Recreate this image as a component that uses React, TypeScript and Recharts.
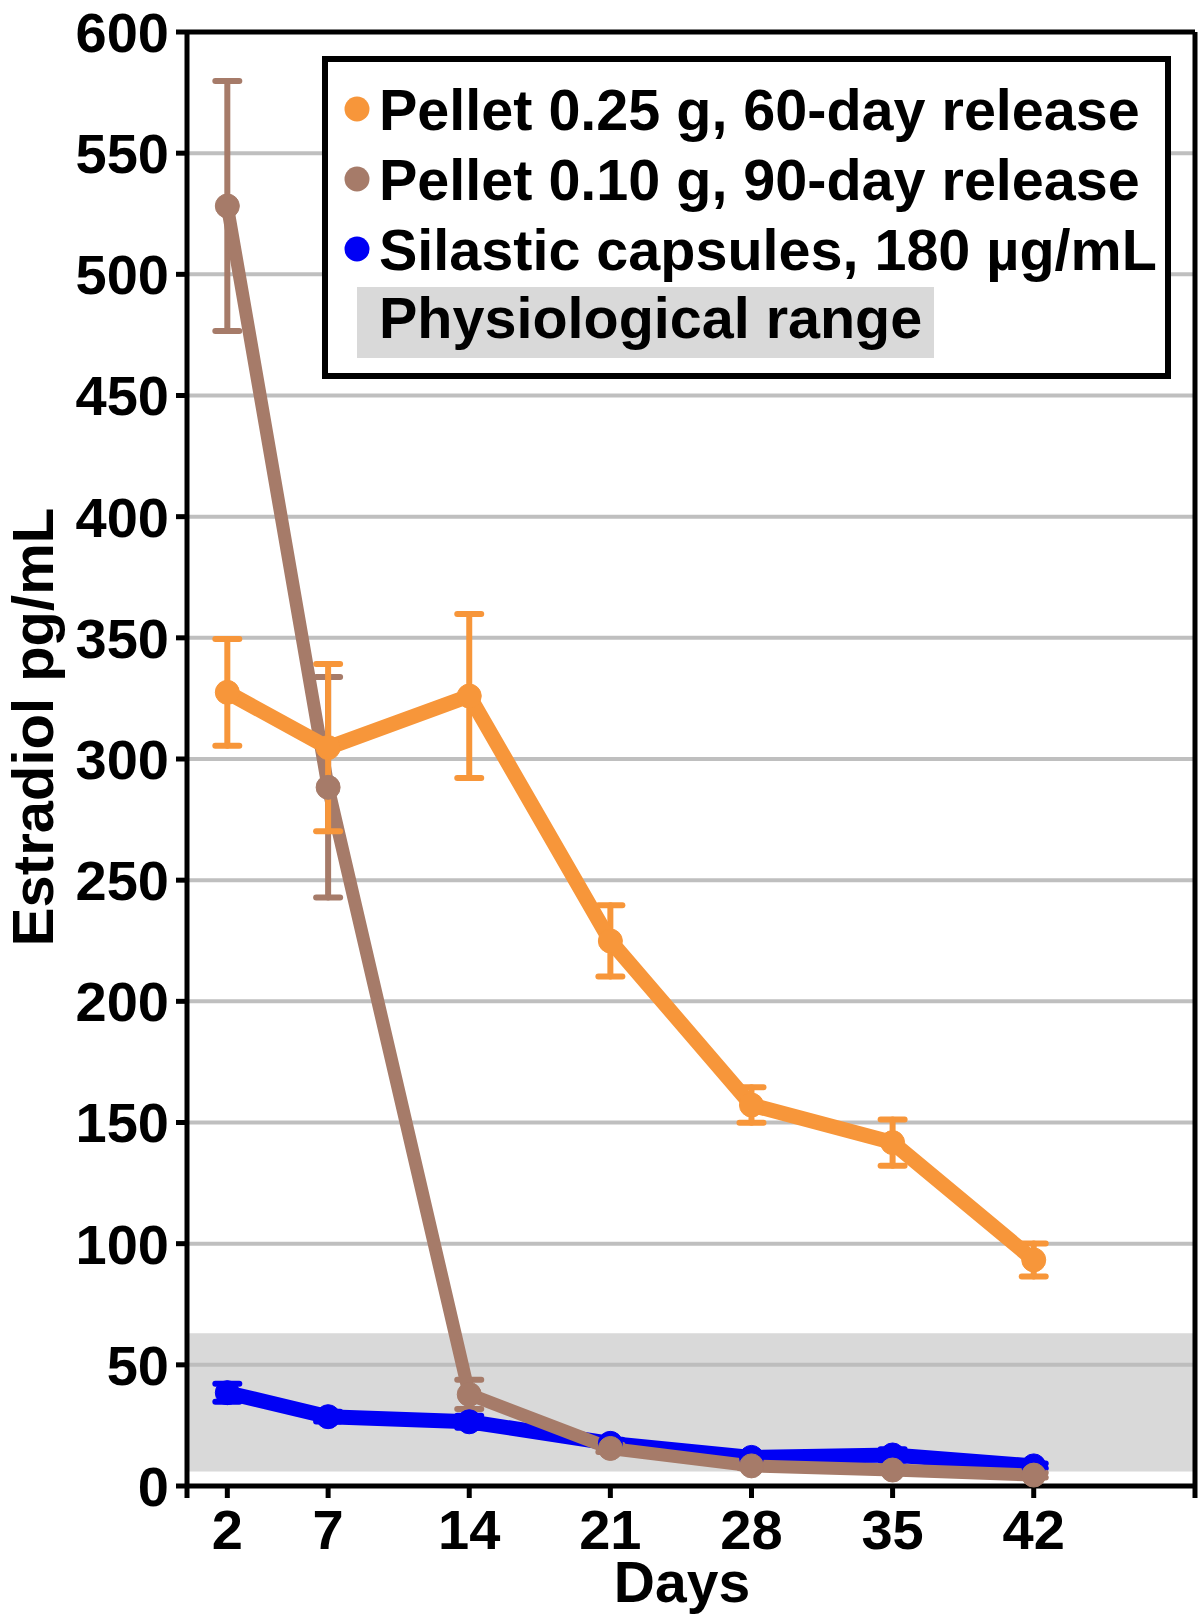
import React from "react"
import {
  LineChart,
  Line,
  XAxis,
  YAxis,
  CartesianGrid,
  ErrorBar,
  ReferenceArea,
  ReferenceLine,
  Legend,
} from "recharts"

// days after implant
const days = [2, 7, 14, 21, 28, 35, 42]

// Pellet 0.25 g, 60-day release
const pellet25 = [327.5, 304.7, 326, 224.9, 157.2, 141.7, 93.3]
const pellet25Err = [22, 34.5, 33.8, 14.7, 7.3, 9.5, 6.8]

// Pellet 0.10 g, 90-day release
const pellet10 = [528.2, 288.3, 37.8, 15.5, 8.3, 6.6, 4.5]
const pellet10Err = [51.6, 45.5, 6, 1.5, 1, 1, 1]

// Silastic capsules, 180 µg/mL
const silastic = [38.5, 28.6, 26.5, 17.6, 11.8, 12.8, 8.3]
const silasticErr = [3.7, 2, 2.5, 1.5, 1, 2.4, 1]

// physiological range band
const physioLow = 6
const physioHigh = 63

const yTicks = [0, 50, 100, 150, 200, 250, 300, 350, 400, 450, 500, 550, 600]
const xTicks = [0, 2, 7, 14, 21, 28, 35, 42, 50]

const series = [
  { key: "p25", name: "Pellet 0.25 g, 60-day release", color: "#f7963a", width: 15 },
  { key: "p10", name: "Pellet 0.10 g, 90-day release", color: "#a67b69", width: 13 },
  { key: "sil", name: "Silastic capsules, 180 µg/mL", color: "#0000f5", width: 15 },
]

const data = days.map((d, i) => ({
  day: d,
  p25: pellet25[i],
  p25Err: pellet25Err[i],
  p10: pellet10[i],
  p10Err: pellet10Err[i],
  sil: silastic[i],
  silErr: silasticErr[i],
}))

const FONT = "'Liberation Sans', Arial, Helvetica, sans-serif"

function LegendBox() {
  return (
    <svg width={849} height={323} style={{ display: "block" }}>
      <rect x={3} y={3} width={843} height={317} fill="#fff" stroke="#000" strokeWidth={6} />
      <rect x={35} y={231} width={577} height={71} fill="#d9d9d9" />
      {series.map((s, i) => (
        <g key={s.key}>
          <circle cx={35} cy={53 + i * 70} r={12.5} fill={s.color} />
          <text x={57} y={74 + i * 70} fontFamily={FONT} fontWeight={700} fontSize={57.5} fill="#000">
            {s.name}
          </text>
        </g>
      ))}
      <text x={57} y={282} fontFamily={FONT} fontWeight={700} fontSize={57.5} fill="#000">
        Physiological range
      </text>
    </svg>
  )
}

function YLabel(props: any) {
  const vb = props.viewBox
  const cy = vb.y + vb.height / 2 - 32
  return (
    <text
      x={53}
      y={cy}
      transform={`rotate(-90 53 ${cy})`}
      textAnchor="middle"
      fontFamily={FONT}
      fontWeight={700}
      fontSize={58}
      fill="#000"
    >
      Estradiol pg/mL
    </text>
  )
}

function XLabel(props: any) {
  const vb = props.viewBox
  return (
    <text
      x={vb.x + vb.width / 2 - 9}
      y={vb.y + 116}
      textAnchor="middle"
      fontFamily={FONT}
      fontWeight={700}
      fontSize={57}
      fill="#000"
    >
      Days
    </text>
  )
}

export default function App() {
  const tickStyle = { fontSize: 56, fontWeight: 700, fill: "#000", fontFamily: FONT }
  return (
    <div style={{ position: "absolute", left: 0, top: 0, width: 1200, height: 1624, background: "#fff" }}>
      <LineChart width={1200} height={1624} data={data} margin={{ top: 32, right: 5, left: 0, bottom: 0 }}>
        <ReferenceArea y1={physioLow} y2={physioHigh} fill="#bbbbbb" fillOpacity={0.56} stroke="none" ifOverflow="visible" />
        <CartesianGrid vertical={false} stroke="#bfbfbf" strokeWidth={4} />
        <XAxis
          dataKey="day"
          type="number"
          domain={[0, 50]}
          ticks={xTicks}
          interval={0}
          height={138}
          tickSize={12}
          tickMargin={11}
          tick={tickStyle}
          tickFormatter={(v: number) => (v === 0 || v === 50 ? "" : String(v))}
          axisLine={{ stroke: "#000", strokeWidth: 5 }}
          tickLine={{ stroke: "#000", strokeWidth: 5 }}
          label={<XLabel />}
        />
        <YAxis
          type="number"
          domain={[0, 600]}
          ticks={yTicks}
          interval={0}
          width={187}
          tickSize={11}
          tickMargin={7}
          tick={tickStyle}
          axisLine={{ stroke: "#000", strokeWidth: 5 }}
          tickLine={{ stroke: "#000", strokeWidth: 5 }}
          label={<YLabel />}
        />
        <ReferenceLine y={600} stroke="#000" strokeWidth={5} ifOverflow="visible" />
        <ReferenceLine x={50} stroke="#000" strokeWidth={5} ifOverflow="visible" />
        {series
          .slice()
          .reverse()
          .map((s) => (
            <Line
              key={s.key}
              dataKey={s.key}
              name={s.name}
              stroke={s.color}
              strokeWidth={s.width}
              strokeLinejoin="round"
              dot={{ r: 12, fill: s.color, stroke: s.color, strokeWidth: 1 }}
              isAnimationActive={false}
            >
              <ErrorBar
                dataKey={`${s.key}Err`}
                direction="y"
                width={12}
                strokeWidth={6}
                stroke={s.color}
                strokeLinecap="round"
                isAnimationActive={false}
              />
            </Line>
          ))}
        <Legend
          layout="vertical"
          align="center"
          verticalAlign="middle"
          content={() => <LegendBox />}
          wrapperStyle={{ position: "absolute", left: 322, top: 56, width: 849, height: 323 }}
        />
      </LineChart>
    </div>
  )
}
